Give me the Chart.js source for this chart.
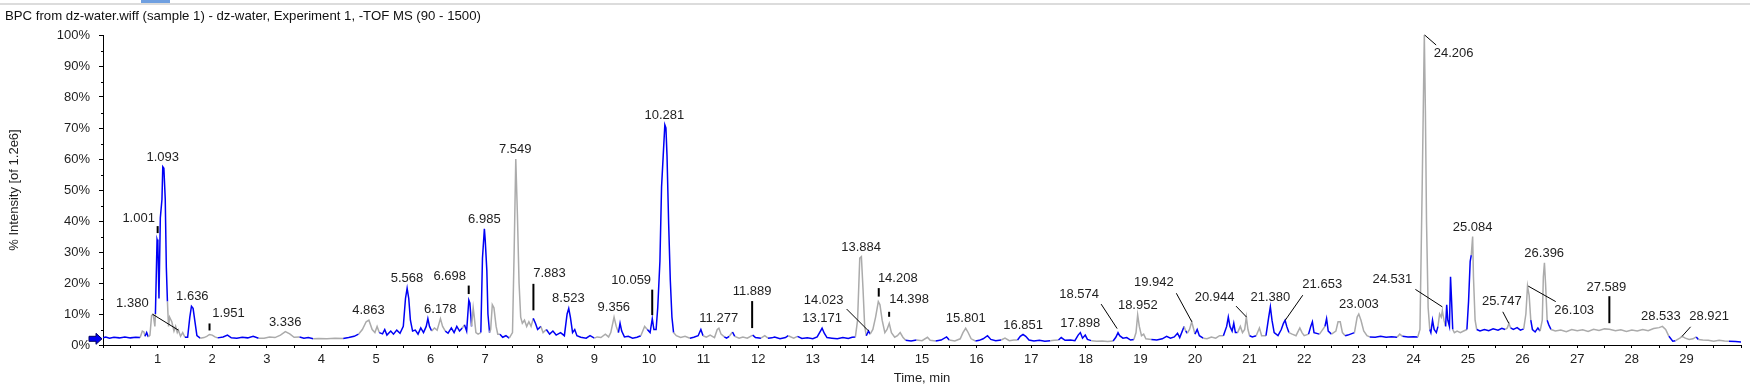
<!DOCTYPE html>
<html>
<head>
<meta charset="utf-8">
<script src="https://cdn.jsdelivr.net/npm/chart.js@4.4.1/dist/chart.umd.min.js"></script>
<style>
  body { margin: 0; background: #fff; }
  #wrap { position: relative; width: 1750px; height: 390px; overflow: hidden; }
  #topline { position: absolute; left: 0; top: 3px; width: 1750px; height: 2px; background: #dcdcdc; }
  #toptab { position: absolute; left: 141px; top: 0; width: 29px; height: 3px; background: #6f9fe0; }
  #title { position: absolute; left: 5px; top: 8px; font: 13.2px "Liberation Sans", Arial, sans-serif; color: #111; white-space: nowrap; }
  canvas { position: absolute; left: 0; top: 0; }
</style>
</head>
<body>
<div id="wrap">
  <canvas id="myChart" width="1750" height="390"></canvas>
  <div id="topline"></div>
  <div id="toptab"></div>
  <div id="title">BPC from dz-water.wiff (sample 1) - dz-water, Experiment 1, -TOF MS (90 - 1500)</div>
</div>
<script>
// BPC trace: [time (min), intensity (%)]
const trace = [
  [0.00,2.3],[0.05,2.6],[0.12,2.2],[0.20,2.5],[0.30,2.3],[0.40,2.6],[0.50,2.3],[0.60,2.5],[0.68,2.4],
  [0.72,4.5],[0.75,4.2],[0.77,2.8],[0.80,4.0],[0.83,2.6],[0.86,3.2],[0.89,9.5],[0.92,9.8],[0.95,6],
  [0.96,10],[0.99,34],[1.005,33],[1.025,15],[1.05,41],[1.08,47],[1.095,57.5],[1.115,57],[1.14,47],[1.16,25],[1.18,14],[1.20,6],
  [1.22,9],[1.26,7.5],[1.30,4.5],[1.33,6],[1.36,4],[1.38,4.8],[1.42,2.8],[1.46,4],[1.50,2.5],
  [1.55,2.5],[1.59,9],[1.62,12.5],[1.65,11.8],[1.68,8],[1.72,3],[1.78,2.2],
  [1.85,2.4],[1.90,2.8],[1.95,3.4],[2.00,3.2],[2.05,2.6],
  [2.10,2.3],[2.20,2.6],[2.28,3.2],[2.35,2.3],[2.45,2.2],[2.55,2.5],[2.65,2.3],[2.75,2.8],[2.85,2.2],
  [2.95,2.2],[3.05,2.6],[3.15,2.4],[3.25,3.2],[3.34,4.3],[3.42,3.6],[3.50,2.5],
  [3.60,2.6],[3.68,2.2],[3.76,2.4],[3.85,2.0],[3.95,2.1],[4.10,2.0],[4.25,2.2],
  [4.40,2.1],[4.50,2.4],[4.60,2.8],[4.68,3.5],
  [4.75,5],[4.82,7.5],[4.87,8],[4.93,5],[4.98,4],[5.02,6],[5.06,4],
  [5.12,3.6],[5.16,5],[5.20,3.2],[5.27,4.5],[5.32,3.5],[5.38,4.8],[5.44,3.8],
  [5.50,6],[5.54,15],[5.57,18.3],[5.60,15],[5.63,8],[5.67,4.5],
  [5.72,4.8],[5.77,3.5],[5.82,5.5],[5.87,4],[5.92,6],[5.95,8.5],[5.98,6],[6.02,4.5],
  [6.07,5.5],[6.12,4.8],[6.18,8.5],[6.22,6],[6.27,4.5],
  [6.32,3.8],[6.38,5.5],[6.43,4],[6.48,6],[6.53,4.5],[6.58,5.5],
  [6.62,6.5],[6.66,4.5],[6.70,14.5],[6.72,13.5],[6.75,6],
  [6.78,12],[6.80,9],[6.83,4],[6.87,3.5],
  [6.92,4],[6.95,28],[6.985,37.5],[7.00,34],[7.03,24],[7.05,10],[7.08,4],
  [7.10,5],[7.13,13],[7.16,12],[7.20,6],[7.23,3.5],
  [7.27,3.5],[7.32,2.5],[7.38,3],[7.44,2.2],
  [7.50,4],[7.53,30],[7.56,60],[7.59,42],[7.62,20],[7.65,9],[7.68,7],[7.72,8],[7.76,6],[7.80,7.5],[7.84,6],
  [7.88,8.6],[7.92,7],[7.96,5],[8.02,6],[8.06,4],
  [8.12,5],[8.18,3.5],[8.24,4.5],[8.30,3.2],[8.38,4],[8.45,3],[8.50,10],[8.53,11.8],[8.56,9],[8.60,4],[8.64,5],[8.68,3],
  [8.75,2.5],[8.85,2.2],[8.92,3],[9.00,2.2],[9.05,2.6],[9.12,2.4],[9.20,3.5],[9.26,2.6],
  [9.30,4],[9.36,9],[9.40,6],[9.44,4],[9.47,7],[9.50,4.5],[9.55,2.6],
  [9.62,2.8],[9.70,2.2],[9.78,2.5],[9.85,3],[9.92,6],[9.97,5],
  [10.02,4],[10.06,8.5],[10.09,5],[10.13,5],[10.16,12],[10.20,27],[10.23,51],[10.26,61],[10.29,71],[10.31,70],
  [10.33,61],[10.36,39],[10.39,21],[10.42,9],[10.45,4],
  [10.50,3],[10.58,2.4],[10.66,2.8],[10.75,2.2],[10.82,2.5],[10.90,3],[10.95,5],[10.99,3],
  [11.05,2.5],[11.12,3.2],[11.20,2.4],[11.25,5],[11.28,5.4],[11.32,3.5],
  [11.38,2.6],[11.42,2.2],[11.47,2.8],[11.53,4.2],[11.57,2.8],
  [11.65,2.2],[11.72,2.6],[11.80,2.2],[11.90,3.2],[11.95,2.4],
  [12.05,2.2],[12.12,3],[12.18,2.2],[12.25,2.3],[12.30,2.6],[12.40,2.0],[12.50,2.4],[12.55,3],
  [12.65,2.2],[12.72,2.8],[12.80,2.1],[12.90,2.3],[13.00,2.0],[13.08,2.6],[13.14,4.5],[13.17,5.4],[13.21,3.8],[13.26,2.4],
  [13.35,2.2],[13.45,2.0],[13.55,2.4],[13.65,2.1],[13.72,2.5],
  [13.78,2.6],[13.82,8],[13.86,28],[13.89,28.5],[13.92,18],[13.95,6],[13.98,3],
  [14.02,4.5],[14.05,3.5],
  [14.10,5],[14.15,9],[14.20,14],[14.23,13],[14.27,8],[14.32,4],[14.36,5],[14.40,7],[14.44,4],[14.50,2.5],[14.55,3],[14.60,4],[14.65,2.5],
  [14.70,1.5],[14.80,1.3],[14.90,1.6],[15.00,1.4],[15.10,2.5],[15.15,1.5],
  [15.25,1.3],[15.35,1.6],[15.45,2.6],[15.50,1.6],
  [15.60,1.3],[15.70,2.0],[15.75,4],[15.80,5.4],[15.84,4.2],[15.90,2],
  [15.98,1.3],[16.05,1.5],[16.12,2],[16.20,3],[16.26,1.8],[16.35,1.4],[16.45,1.6],
  [16.52,2.2],[16.60,1.4],[16.68,1.6],
  [16.75,1.6],[16.80,2.8],[16.85,3.4],[16.90,2.8],[16.96,1.6],[17.05,1.3],[17.15,1.5],[17.25,1.2],[17.35,1.4],
  [17.42,1.5],[17.50,1.6],[17.55,2.4],[17.62,1.5],[17.72,1.6],[17.80,1.4],[17.86,3.2],[17.90,4],[17.94,2.2],[17.99,3.2],[18.03,1.8],[18.10,1.4],
  [18.20,1.2],[18.30,1.3],[18.40,1.1],[18.50,1.3],
  [18.55,2.5],[18.59,4],[18.62,3],[18.68,2.2],[18.75,2.4],[18.82,1.6],[18.88,1.8],
  [18.92,4],[18.95,9.7],[18.98,6],[19.02,3],[19.06,3.5],[19.10,2],
  [19.20,1.8],[19.30,1.6],[19.40,2.0],[19.48,2.8],[19.55,2.2],[19.62,2.6],[19.68,3.8],[19.72,2.4],
  [19.80,6],[19.83,4.5],[19.86,3.8],[19.90,5],[19.94,7.5],[19.97,5.5],[20.00,3.5],
  [20.04,5],[20.08,3],
  [20.15,2.2],[20.22,2],[20.30,2.6],[20.38,2.2],[20.45,3],
  [20.52,3],[20.58,6],[20.61,9],[20.64,6],[20.68,4.5],[20.71,7],[20.74,4],
  [20.78,4],[20.83,6],[20.87,4],[20.91,5],[20.94,9],[20.97,5],[21.00,3],
  [21.05,2.6],[21.12,3],[21.18,5.5],[21.22,3],
  [21.30,3],[21.35,9],[21.38,12.3],[21.41,8],[21.45,4],[21.52,3],[21.58,5],[21.62,7],[21.65,8],[21.68,6],[21.72,4],
  [21.78,3.5],[21.85,3],[21.92,5.5],[21.96,4],[22.00,3],
  [22.08,3.5],[22.12,6],[22.15,7.5],[22.18,4],[22.28,3.5],[22.38,6],[22.41,8.5],[22.44,4.5],[22.50,3.5],
  [22.58,4.5],[22.62,7.5],[22.66,7.5],[22.70,4],[22.75,3],
  [22.80,3.2],[22.86,3.6],
  [22.92,4],[22.97,9],[23.00,10],[23.04,8],[23.09,4.5],[23.15,3],
  [23.20,2.6],[23.30,2.5],[23.40,2.8],[23.50,2.5],[23.60,2.7],[23.70,2.5],[23.75,3.5],[23.80,2.8],
  [23.90,2.6],[24.00,2.7],[24.08,2.6],
  [24.12,5],[24.16,50],[24.18,75],[24.20,100],[24.22,75],[24.24,40],[24.27,12],[24.30,5],
  [24.32,4],[24.35,8],[24.38,5],[24.42,4],
  [24.45,6],[24.48,10],[24.51,9],[24.53,11],[24.56,8],
  [24.59,6],[24.61,13],[24.63,8],[24.66,6],[24.68,22],[24.70,14],[24.72,5],
  [24.75,4],[24.80,4.5],[24.86,4],[24.92,4.5],
  [24.98,5],[25.01,14],[25.04,27],[25.06,29],[25.085,35],[25.10,22],[25.13,8],
  [25.16,5],[25.22,4.5],[25.30,5],[25.38,4.6],[25.46,5.2],[25.55,4.8],[25.62,5.4],[25.68,5],
  [25.72,5.5],[25.75,7],[25.78,5.5],
  [25.83,5],[25.90,5.6],[25.96,4.8],[26.02,5.2],
  [26.06,10],[26.09,19],[26.12,16],[26.15,8],
  [26.18,5],[26.23,4.2],[26.28,5.5],[26.32,4.5],
  [26.36,8],[26.38,22],[26.40,26.5],[26.42,20],[26.45,8],
  [26.48,6.5],[26.52,5],
  [26.60,4.5],[26.70,4.8],[26.80,4.3],[26.90,5],[27.00,4.6],[27.10,4.9],[27.20,4.4],[27.30,5.1],[27.40,4.7],
  [27.50,5.2],[27.59,5.1],[27.70,4.6],[27.80,4.9],[27.90,4.4],[28.00,4.8],[28.10,4.5],[28.20,5],[28.30,4.6],
  [28.40,5.3],[28.50,5.6],[28.56,6],[28.62,5],
  [28.68,2.8],[28.75,1.2],[28.80,1.4],
  [28.88,2.2],[28.92,2.8],[28.98,2.2],[29.05,1.8],[29.12,2],
  [29.18,2.6],[29.22,1.8],[29.30,1.6],[29.40,1.5],[29.50,1.2],[29.60,1.5],[29.70,1.3],[29.78,1.2],[29.90,1.1],[30.00,1.0]
];

// time ranges where the trace is drawn grey instead of blue
const grayRanges = [
  [0.70,0.77],[0.845,0.955],[1.19,1.52],[1.80,2.08],[2.88,3.55],[3.88,4.35],[4.70,5.08],
  [6.04,6.29],[6.60,6.64],[6.76,6.90],[7.09,7.25],[7.46,7.86],[8.00,8.09],[9.02,9.42],[9.82,9.99],
  [10.47,10.78],[11.00,11.36],[11.45,11.50],[11.60,11.87],[12.02,12.20],[12.60,12.76],[13.76,13.99],
  [14.06,14.68],[14.95,15.20],[15.55,15.95],[16.48,16.72],[17.38,17.46],[18.12,18.52],[18.90,19.15],
  [19.77,19.84],[19.88,20.01],[20.12,20.50],[20.76,21.00],[21.10,21.28],[21.75,22.05],[22.24,22.33],
  [22.53,22.77],[22.90,23.18],[23.72,23.83],[24.10,24.31],[24.44,24.58],[24.72,24.97],[25.07,25.15],
  [25.70,25.80],[26.04,26.16],[26.34,26.46],[26.55,28.66],[28.84,29.15],[29.24,29.45],[29.55,29.75]
];

// retention times printed over the peaks
const peakLabels = [
  '1.001','1.093','1.380','1.636','1.951','3.336','4.863','5.568','6.178','6.698','6.985','7.549',
  '7.883','8.523','9.356','10.059','10.281','11.277','11.889','13.171','13.884','14.023','14.208',
  '14.398','15.801','16.851','17.898','18.574','18.952','19.942','20.944','21.380','21.653','23.003',
  '24.206','24.531','25.084','25.747','26.103','26.396','27.589','28.533','28.921'
];

// where labels sit relative to their peak (px); mark = short tick, lead = leader line
const labelLayout = {
  '1.001': {dx: -19, dy: -21.5, mark: [-13.5, -6.5]},
  '1.380': {dx: -46, dy: -27, lead: [-26, -16, 0, 0]},
  '1.951': {dx: 19, dy: -21, mark: [-11, -4]},
  '6.698': {dx: -19, dy: -23.5, mark: [-14.5, -6]},
  '7.883': {dx: 16, dy: -44.5, mark: [-34.5, -8]},
  '10.059': {dx: -21, dy: -38.5, mark: [-29, -3.5]},
  '11.889': {dx: 0, dy: -43.5, mark: [-34, -7]},
  '14.023': {dx: -45, dy: -31, lead: [-22, -22, 0, 0]},
  '14.208': {dx: 19, dy: -23.5, mark: [-13.5, -5]},
  '14.398': {dx: 20, dy: -23.5, mark: [-11.5, -6.5]},
  '18.574': {dx: -38, dy: -38.5, lead: [-16, -28.5, 0, -4]},
  '19.942': {dx: -38, dy: -39, lead: [-15.5, -28.5, 0, 0]},
  '20.944': {dx: -32, dy: -20, lead: [-10.5, -11, 0, 0]},
  '21.653': {dx: 37, dy: -36, lead: [17.5, -25, 0, 0]},
  '24.206': {dx: 29, dy: 18, lead: [0, 0, 11.5, 10]},
  '24.531': {dx: -50, dy: -31, lead: [-27, -21.5, 0, -4]},
  '25.747': {dx: -7, dy: -21.5, lead: [-6, -11.5, 0, 0]},
  '26.103': {dx: 46, dy: 24, lead: [0, 0, 27.5, 15.5]},
  '27.589': {dx: -3, dy: -42, mark: [-33, -6]},
  '28.921': {dx: 27, dy: -19.5, lead: [8.5, -9.5, 0, 0]}
};

const FONT = '"Liberation Sans", Arial, sans-serif';
const BLUE = '#0000f5';
const GREY = '#ababab';

function isGray(t) {
  return grayRanges.some(r => t >= r[0] && t <= r[1]);
}

// highest trace value near a label time
function apexAt(t) {
  let best = null, near = trace[0], nd = Infinity;
  trace.forEach(p => {
    const d = Math.abs(p[0] - t);
    if (d <= 0.025 && (best === null || p[1] > best)) best = p[1];
    if (d < nd) { nd = d; near = p; }
  });
  return best === null ? near[1] : best;
}

const extras = {
  id: 'extras',
  afterDatasetsDraw(chart) {
    const {ctx, scales: {x, y}, chartArea} = chart;
    ctx.save();
    ctx.font = '13px ' + FONT;
    ctx.fillStyle = '#1e1e1e';
    ctx.strokeStyle = '#000';
    ctx.textAlign = 'center';
    ctx.textBaseline = 'middle';
    peakLabels.forEach(lbl => {
      const t = parseFloat(lbl);
      const ax = x.getPixelForValue(t);
      const ay = y.getPixelForValue(apexAt(t));
      const L = labelLayout[lbl] || {dx: 0, dy: -9.5};
      ctx.fillText(lbl, ax + L.dx, ay + L.dy);
      if (L.mark) {
        ctx.lineWidth = 2;
        ctx.beginPath();
        ctx.moveTo(ax, ay + L.mark[0]);
        ctx.lineTo(ax, ay + L.mark[1]);
        ctx.stroke();
      }
      if (L.lead) {
        ctx.lineWidth = 1;
        ctx.beginPath();
        ctx.moveTo(ax + L.lead[0], ay + L.lead[1]);
        ctx.lineTo(ax + L.lead[2], ay + L.lead[3]);
        ctx.stroke();
      }
    });

    // minor ticks on the intensity axis
    ctx.lineWidth = 1;
    ctx.strokeStyle = '#000';
    for (let v = 5; v < 100; v += 10) {
      const py = Math.round(y.getPixelForValue(v)) + 0.5;
      ctx.beginPath();
      ctx.moveTo(chartArea.left - 2, py);
      ctx.lineTo(chartArea.left, py);
      ctx.stroke();
    }

    // baseline arrow
    const by = y.getPixelForValue(2);
    const l = chartArea.left;
    ctx.fillStyle = BLUE;
    ctx.strokeStyle = '#000060';
    ctx.beginPath();
    ctx.moveTo(l - 14, by - 2.5);
    ctx.lineTo(l - 7, by - 2.5);
    ctx.lineTo(l - 7, by - 5.5);
    ctx.lineTo(l - 1, by);
    ctx.lineTo(l - 7, by + 5.5);
    ctx.lineTo(l - 7, by + 2.5);
    ctx.lineTo(l - 14, by + 2.5);
    ctx.closePath();
    ctx.fill();
    ctx.stroke();
    ctx.restore();
  }
};

var myChart = new Chart(document.getElementById('myChart'), {
  type: 'line',
  data: {
    datasets: [{
      data: trace.map(p => ({x: p[0], y: p[1]})),
      borderColor: BLUE,
      borderWidth: 1.5,
      pointRadius: 0,
      tension: 0,
      segment: {
        borderColor: c => isGray((c.p0.parsed.x + c.p1.parsed.x) / 2) ? GREY : BLUE
      }
    }]
  },
  options: {
    responsive: false,
    animation: false,
    devicePixelRatio: 1,
    layout: {padding: {top: 35, right: 9, left: 0, bottom: 0}},
    plugins: {legend: {display: false}, tooltip: {enabled: false}},
    scales: {
      x: {
        type: 'linear',
        min: 0,
        max: 30,
        afterFit: s => { s.height = 45; },
        grid: {drawOnChartArea: false, tickLength: 3, tickColor: '#000'},
        border: {color: '#000', width: 1},
        ticks: {
          stepSize: 0.5,
          maxTicksLimit: 100,
          autoSkip: false,
          maxRotation: 0,
          padding: 4,
          color: '#1e1e1e',
          font: {family: FONT, size: 13},
          callback: v => (Number.isInteger(v) && v > 0 && v < 30) ? String(v) : ''
        },
        title: {
          display: true,
          text: 'Time, min',
          color: '#1e1e1e',
          font: {family: FONT, size: 13},
          padding: {top: 0, bottom: 4}
        }
      },
      y: {
        min: 0,
        max: 100,
        afterFit: s => { s.width = 103; },
        grid: {
          drawOnChartArea: false,
          tickLength: 4,
          tickColor: c => (c.tick && c.tick.value % 10 === 0) ? '#000' : 'rgba(0,0,0,0)'
        },
        border: {color: '#000', width: 1},
        ticks: {
          stepSize: 5,
          maxTicksLimit: 40,
          padding: 9,
          color: '#1e1e1e',
          font: {family: FONT, size: 13},
          callback: v => v % 10 === 0 ? v + '%' : ''
        },
        title: {
          display: true,
          text: '% Intensity [of 1.2e6]',
          color: '#1e1e1e',
          font: {family: FONT, size: 13},
          padding: {top: 7, bottom: 0}
        }
      }
    }
  },
  plugins: [extras]
});
</script>
</body>
</html>
